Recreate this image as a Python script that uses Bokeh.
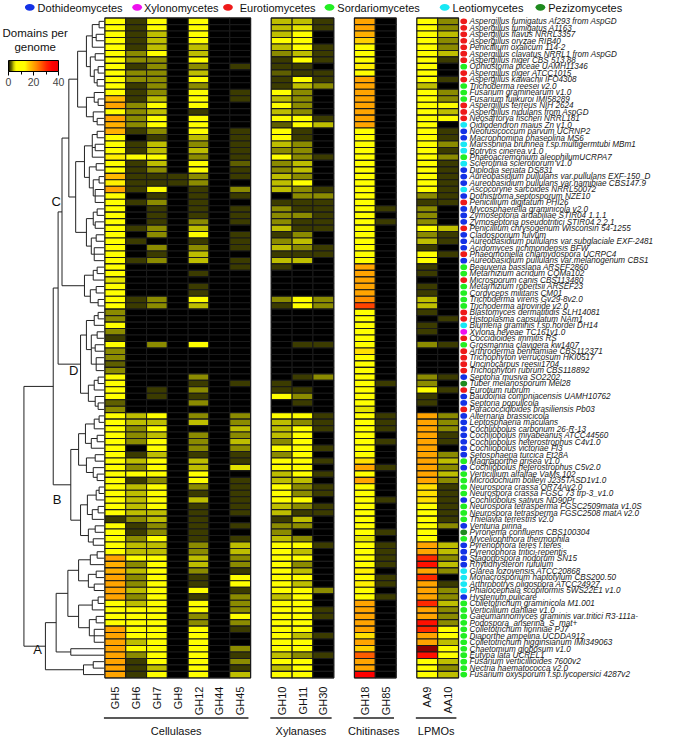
import numpy as np
import pandas as pd
from bokeh.plotting import figure
from bokeh.models import Range1d, ColumnDataSource, LinearColorMapper, ColorBar, FixedTicker
from bokeh.embed import file_html
from bokeh.resources import INLINE
from bokeh.core.properties import value

# ---------------- data ----------------
species = [
    "Aspergillus fumigatus Af293 from AspGD", "Aspergillus fumigatus A1163", "Aspergillus flavus NRRL3357",
    "Aspergillus oryzae RIB40", "Penicillium oxalicum 114-2", "Aspergillus clavatus NRRL1 from AspGD",
    "Aspergillus niger CBS 513.88", "Ophiostoma piceae UAMH11346", "Aspergillus niger ATCC1015",
    "Aspergillus kawachii IFO4308", "Trichoderma reesei v2.0", "Fusarium graminearum v1.0",
    "Fusarium fujikuroi IMI58289", "Aspergillus terreus NIH 2624", "Aspergillus nidulans from AspGD",
    "Neosartorya fischeri NRRL181", "Oidiodendron maius Zn v1.0", "Neofusicoccum parvum UCRNP2",
    "Macrophomina phaseolina MS6", "Marssonina brunnea f.sp.multigermtubi MBm1", "Botrytis cinerea v1.0",
    "Phaeoacremonium aleophilumUCRPA7", "Sclerotinia sclerotiorum v1.0", "Diplodia seriata DS831",
    "Aureobasidium pullulans var.pullulans EXF-150_D", "Aureobasidium pullulans var.namibiae CBS147.9",
    "Ascocoryne sarcoides NRRL50072", "Dothistroma septosporum NZE10", "Penicillium digitatum PHI26",
    "Mycosphaerella graminicola v2.0", "Zymoseptoria ardabiliae STIR04 1.1.1",
    "Zymoseptoria pseudotritici STIR04 2.2.1", "Penicillium chrysogenum Wisconsin 54-1255",
    "Cladosporium fulvum", "Aureobasidium pullulans var.subglaciale EXF-2481", "Acidomyces richmondensis BFW",
    "Phaeomoniella chlamydospora UCRPC4", "Aureobasidium pullulans var.melanogenum CBS1",
    "Beauveria bassiana ARSEF2860", "Metarhizium acridum CQMa102", "Microsporum canis CBS113480",
    "Metarhizium robertsii ARSEF23", "Cordyceps militaris CM01", "Trichoderma virens Gv29-8v2.0",
    "Trichoderma atroviride v2.0", "Blastomyces dermatitidis SLH14081", "Histoplasma capsulatum NAm1",
    "Blumeria graminis f.sp.hordei DH14", "Xylona heveae TC161v1.0", "Coccidioides immitis RS",
    "Grosmannia clavigera kw1407", "Arthroderma benhamiae CBS112371", "Trichophyton verrucosum HKI0517",
    "Uncinocarpus reesii1704", "Trichophyton rubrum CBS118892", "Septoria musiva SO2202",
    "Tuber melanosporum Mel28", "Eurotium rubrum", "Baudoinia compniacensis UAMH10762", "Septoria populicola",
    "Paracoccidioides brasiliensis Pb03", "Alternaria brassicicola", "Leptosphaeria maculans",
    "Cochliobolus carbonum 26-R-13", "Cochliobolus miyabeanus ATCC44560", "Cochliobolus heterostrophus C4v1.0",
    "Cochliobolus victoriae FI3", "Setosphaeria turcica Et28A", "Magnaporthe grisea v1.0",
    "Cochliobolus heterostrophus C5v2.0", "Verticillium alfalfae VaMs.102", "Microdochium bolleyi J235TASD1v1.0",
    "Neurospora crassa OR74Av2.0", "Neurospora crassa FGSC 73 trp-3_v1.0", "Cochliobolus sativus ND90Pr",
    "Neurospora tetrasperma FGSC2509mata v1.0S", "Neurospora tetrasperma FGSC2508 matA v2.0",
    "Thielavia terrestris v2.0", "Venturia pirina", "Pyronema confluens CBS100304", "Myceliophthora thermophila",
    "Pyrenophora teres f.teres", "Pyrenophora tritici-repentis", "Stagonospora nodorum SN15",
    "Rhytidhysteron rufulum", "Glarea lozoyensis ATCC20868", "Monacrosporium haptotylum CBS200.50",
    "Arthrobotrys oligospora ATCC24927", "Phialocephala scopiformis 5WS22E1 v1.0", "Hysterium pulicare",
    "Colletotrichum graminicola M1.001", "Verticillium dahliae v1.0",
    "Gaeumannomyces graminis var.tritici R3-111a-", "Podospora_anserina_S_mat+", "Colletotrichum fioriniae PJ7",
    "Diaporthe ampelina UCDDA912", "Colletotrichum higginsianum IMI349063", "Chaetomium globosum v1.0",
    "Eutypa lata UCREL1", "Fusarium verticillioides 7600v2", "Nectria haematococca v2.0",
    "Fusarium oxysporum f.sp.lycopersici 4287v2",
]
# D=Dothideomycetes X=Xylonomycetes E=Eurotiomycetes S=Sordariomycetes L=Leotiomycetes P=Pezizomycetes
classes = list(
    "EEEEEEESEESSSEEEL"      # 1-17
    "DDLLSLDDDLDEDDDEDDDED"  # 18-38
    "SSESSSSEELXES"          # 39-51
    "EEEEDPEDDE"             # 52-61
    "DDDDDDDSDSSSSDSSSDPS"   # 62-81
    "DDDDLLLLD"              # 82-90
    "SSSSSSSSSSSS"           # 91-102
)
class_names = ["Dothideomycetes", "Xylonomycetes", "Eurotiomycetes", "Sordariomycetes", "Leotiomycetes", "Pezizomycetes"]
class_keys = ["D", "X", "E", "S", "L", "P"]
class_colors = ["#1432e6", "#ee10ee", "#ee1a1a", "#22ee22", "#18e8f4", "#1e8a1e"]

families = ["GH5", "GH6", "GH7", "GH9", "GH12", "GH44", "GH45", "GH10", "GH11", "GH30", "GH18", "GH85", "AA9", "AA10"]
groups = ["Cellulases", "Xylanases", "Chitinases", "LPMOs"]
group_members = [["GH5", "GH6", "GH7", "GH9", "GH12", "GH44", "GH45"], ["GH10", "GH11", "GH30"],
                 ["GH18", "GH85"], ["AA9", "AA10"]]

# domains per genome, one list per family, rows in species order (10 per line)
GH5 = [11, 11, 13, 11, 11, 11, 11, 11, 11, 11,
       11, 13, 18, 20, 11, 20, 19, 19, 11, 11,
       11, 14, 11, 11, 18, 14, 20, 11, 11, 11,
       11, 11, 11, 11, 11, 11, 11, 11, 11, 11,
       5, 11, 11, 11, 11, 3, 3, 11, 3, 1,
       11, 3, 3, 2, 3, 11, 11, 11, 11, 2,
       3, 11, 11, 11, 11, 11, 11, 11, 11, 11,
       11, 11, 11, 11, 11, 11, 11, 1, 11, 11,
       11, 11, 11, 20, 19, 19, 20, 20, 20, 20,
       11, 11, 11, 11, 20, 20, 20, 20, 20, 20,
       20, 20]
GH6 = [1, 1, 1, 1, 1, 3, 3, 1, 3, 3,
       1, 1, 1, 3, 3, 3, 3, 1, 0, 1,
       1, 6, 1, 1, 1, 1, 1, 0, 1, 0,
       0, 0, 1, 0, 1, 0, 0, 1, 0, 0,
       0, 0, 0, 1, 1, 0, 0, 0, 0, 0,
       0, 0, 0, 0, 0, 0, 0, 0, 0, 0,
       0, 4, 4, 3, 3, 3, 0, 1, 4, 3,
       6, 1, 4, 4, 4, 4, 4, 3, 1, 1,
       3, 4, 4, 6, 3, 4, 3, 3, 4, 3,
       4, 6, 6, 6, 6, 6, 4, 6, 3, 1,
       1, 1]
GH7 = [6, 6, 4, 4, 4, 6, 3, 3, 3, 3,
       3, 3, 4, 6, 4, 6, 6, 3, 1, 4,
       4, 6, 4, 3, 1, 1, 6, 1, 3, 1,
       1, 1, 3, 3, 0, 3, 1, 3, 0, 0,
       0, 0, 0, 3, 3, 0, 0, 0, 0, 0,
       3, 0, 0, 0, 0, 0, 0, 1, 1, 0,
       0, 6, 4, 6, 4, 6, 6, 4, 6, 6,
       6, 3, 6, 6, 6, 6, 4, 4, 3, 3,
       6, 4, 4, 6, 6, 6, 6, 6, 6, 6,
       6, 6, 6, 6, 6, 6, 6, 6, 6, 6,
       4, 6]
GH9 = [0, 0, 0, 0, 0, 0, 0, 0, 0, 0,
       0, 0, 0, 0, 0, 0, 0, 0, 0, 0,
       0, 0, 0, 0, 1, 1, 0, 0, 0, 0,
       0, 0, 0, 0, 0, 0, 0, 0, 0, 0,
       0, 0, 0, 0, 0, 0, 0, 0, 0, 0,
       0, 0, 0, 0, 0, 0, 0, 0, 0, 0,
       0, 0, 0, 0, 0, 0, 0, 0, 0, 0,
       0, 0, 0, 0, 0, 0, 0, 0, 0, 0,
       0, 0, 0, 0, 0, 0, 0, 0, 0, 0,
       0, 0, 0, 0, 0, 0, 0, 0, 0, 0,
       0, 0]
GH12 = [6, 6, 6, 6, 4, 4, 6, 3, 4, 6,
        3, 6, 6, 6, 1, 6, 6, 6, 4, 3,
        4, 3, 6, 6, 3, 3, 1, 1, 1, 1,
        1, 3, 4, 6, 1, 3, 4, 4, 0, 1,
        0, 1, 1, 6, 4, 0, 0, 0, 0, 0,
        6, 0, 0, 0, 0, 3, 1, 3, 1, 3,
        0, 3, 4, 0, 3, 3, 3, 1, 4, 4,
        6, 6, 3, 1, 4, 1, 1, 1, 1, 1,
        1, 3, 3, 4, 4, 3, 1, 1, 6, 1,
        6, 6, 3, 3, 6, 6, 6, 6, 6, 6,
        6, 6]
GH44 = [0, 0, 0, 0, 0, 0, 0, 0, 0, 0,
        0, 0, 0, 0, 0, 0, 0, 0, 0, 0,
        0, 0, 0, 0, 0, 0, 0, 0, 0, 0,
        0, 0, 0, 0, 0, 0, 0, 0, 0, 0,
        0, 0, 0, 0, 0, 0, 0, 0, 0, 0,
        0, 0, 0, 0, 0, 0, 0, 0, 0, 0,
        0, 0, 0, 0, 0, 0, 0, 0, 0, 0,
        0, 0, 0, 0, 0, 0, 0, 0, 0, 0,
        0, 0, 0, 0, 0, 0, 0, 0, 0, 0,
        0, 0, 0, 0, 0, 0, 0, 0, 0, 0,
        0, 0]
GH45 = [0, 0, 0, 0, 0, 0, 0, 1, 0, 0,
        0, 1, 1, 0, 0, 0, 0, 1, 1, 1,
        1, 1, 2, 1, 1, 0, 3, 1, 0, 1,
        1, 1, 0, 1, 1, 1, 0, 1, 1, 0,
        0, 0, 0, 0, 0, 0, 0, 0, 0, 0,
        0, 0, 0, 0, 0, 0, 1, 0, 0, 0,
        0, 3, 3, 4, 3, 4, 3, 1, 1, 5,
        0, 1, 1, 1, 1, 1, 1, 0, 1, 0,
        1, 4, 4, 3, 3, 1, 6, 6, 1, 3,
        3, 3, 6, 3, 1, 0, 0, 3, 1, 3,
        1, 4]
GH10 = [4, 4, 4, 6, 4, 3, 1, 1, 2, 1,
        1, 6, 4, 6, 4, 6, 2, 6, 6, 4,
        3, 6, 3, 3, 4, 4, 4, 0, 1, 3,
        3, 3, 4, 1, 3, 4, 1, 4, 1, 0,
        0, 0, 0, 3, 1, 0, 0, 0, 0, 0,
        0, 0, 0, 0, 0, 0, 1, 1, 6, 0,
        0, 6, 4, 4, 4, 3, 6, 3, 6, 6,
        4, 4, 6, 6, 6, 4, 4, 1, 3, 3,
        4, 6, 6, 6, 6, 6, 6, 6, 6, 4,
        6, 6, 6, 6, 6, 6, 6, 6, 4, 6,
        4, 6]
GH11 = [4, 5, 6, 6, 6, 4, 6, 1, 1, 6,
        4, 3, 3, 3, 3, 6, 6, 1, 1, 3,
        3, 3, 4, 4, 3, 6, 3, 3, 1, 1,
        3, 1, 1, 3, 4, 3, 1, 4, 0, 0,
        0, 0, 0, 6, 6, 0, 0, 0, 0, 0,
        1, 0, 0, 0, 0, 1, 0, 1, 3, 1,
        0, 6, 3, 6, 6, 6, 6, 6, 6, 6,
        6, 4, 3, 3, 6, 3, 1, 4, 3, 0,
        3, 6, 4, 6, 3, 4, 6, 4, 6, 6,
        6, 6, 6, 6, 6, 4, 6, 6, 3, 6,
        6, 6]
GH30 = [1, 1, 0, 0, 1, 1, 1, 0, 1, 1,
        3, 0, 0, 0, 0, 1, 4, 0, 0, 0,
        0, 1, 0, 0, 0, 0, 1, 3, 1, 1,
        1, 1, 1, 0, 0, 1, 1, 0, 0, 0,
        0, 0, 0, 3, 3, 0, 0, 0, 0, 0,
        1, 0, 0, 0, 0, 3, 0, 0, 0, 0,
        0, 1, 1, 1, 0, 0, 1, 0, 1, 0,
        1, 0, 1, 1, 0, 1, 1, 0, 0, 0,
        0, 1, 0, 0, 0, 0, 0, 0, 3, 0,
        0, 1, 1, 0, 0, 1, 0, 0, 1, 0,
        0, 0]
GH18 = [20, 20, 19, 16, 12, 12, 12, 14, 12, 20,
        20, 20, 20, 20, 20, 20, 20, 12, 12, 12,
        12, 12, 12, 12, 12, 12, 12, 12, 12, 12,
        12, 12, 12, 12, 12, 12, 12, 12, 20, 20,
        20, 20, 20, 22, 28, 12, 12, 12, 12, 12,
        12, 15, 12, 12, 12, 12, 12, 12, 12, 12,
        5, 12, 12, 12, 12, 12, 12, 12, 15, 20,
        12, 20, 12, 12, 12, 12, 12, 12, 12, 12,
        5, 12, 12, 12, 12, 14, 12, 14, 12, 12,
        20, 20, 20, 20, 20, 15, 20, 16, 26, 20,
        20, 35]
GH85 = [0, 0, 0, 0, 0, 0, 0, 0, 0, 0,
        0, 0, 0, 0, 0, 0, 0, 0, 0, 0,
        0, 0, 0, 0, 0, 0, 0, 0, 0, 1,
        0, 1, 0, 0, 0, 0, 0, 0, 0, 0,
        0, 0, 0, 0, 0, 0, 0, 0, 0, 0,
        0, 0, 0, 0, 0, 0, 1, 0, 0, 0,
        0, 1, 1, 1, 0, 1, 0, 0, 0, 1,
        0, 0, 0, 0, 1, 0, 0, 0, 0, 1,
        0, 1, 1, 1, 1, 0, 1, 1, 0, 1,
        0, 0, 0, 0, 0, 0, 0, 0, 0, 0,
        0, 0]
AA9 = [10, 10, 10, 10, 10, 10, 10, 10, 10, 10,
       4, 12, 10, 10, 10, 10, 10, 12, 10, 10,
       10, 10, 10, 10, 10, 10, 10, 3, 1, 3,
       3, 3, 10, 3, 4, 1, 10, 10, 1, 1,
       0, 1, 1, 4, 4, 1, 0, 1, 1, 0,
       3, 0, 0, 0, 0, 3, 3, 10, 1, 1,
       0, 20, 20, 20, 20, 20, 20, 20, 20, 20,
       20, 20, 15, 15, 15, 10, 10, 10, 10, 10,
       10, 20, 20, 30, 33, 20, 30, 20, 20, 20,
       30, 20, 20, 33, 30, 20, 20, 45, 33, 10,
       10, 10]
AA10 = [3, 3, 4, 3, 3, 4, 1, 0, 0, 1,
        0, 3, 3, 6, 4, 6, 0, 1, 1, 3,
        1, 3, 1, 1, 1, 1, 1, 1, 1, 0,
        0, 0, 4, 1, 1, 0, 1, 0, 0, 0,
        0, 0, 0, 0, 0, 0, 1, 0, 0, 0,
        1, 0, 0, 0, 0, 1, 0, 1, 0, 0,
        0, 3, 3, 3, 1, 1, 0, 3, 4, 3,
        4, 3, 1, 1, 1, 1, 1, 1, 3, 0,
        0, 4, 4, 3, 4, 3, 0, 1, 3, 3,
        4, 3, 3, 3, 6, 6, 4, 6, 6, 4,
        3, 4]

values = {"GH5": GH5, "GH6": GH6, "GH7": GH7, "GH9": GH9, "GH12": GH12, "GH44": GH44, "GH45": GH45,
          "GH10": GH10, "GH11": GH11, "GH30": GH30, "GH18": GH18, "GH85": GH85, "AA9": AA9, "AA10": AA10}

# dendrogram: node = (node position in px, [children]); leaf = row number (1-based)
c1 = (88, [(94, [(101, [1, 2]), (98, [3, 4]), 5]), (92, [(97, [6, 7]), (96, [(100, [8, 9]), (99, [10, 11])])])])
c2 = (88, [(96, [12, (100, [13, 14])]), (95, [15, (99, [16, 17])])])
c3 = (86, [(94, [(99, [18, 19]), (97, [20, 21]), 22]), (91, [(98, [23, 24]), (95, [(101, [25, 26]), (97, [27, 28, 29])])])])
c4 = (88, [(95, [(99, [30, 31]), (97, [32, 33])]), (93, [(98, [34, 35]), (96, [36, 37, 38])])])
c5 = (86, [(95, [(99, [39, 40]), 41]), (92, [(98, [42, 43]), (100, [44, 45])])])
cladeC = (63, [(70, [(79, [c1, c2]), (77, [c3, c4])]), c5])
cladeD = (82, [(88, [(96, [(100, [46, 47]), 48]), (93, [(99, [49, 50]), (97, [51, 52]), (98, [53, 54, 55])])]),
               (90, [(96, [(100, [56, 57]), 58]), (97, [59, (100, [60, 61])])])])
cladeB = (72, [(80, [(87, [(96, [(101, [62, 63]), 64]), (93, [(99, [65, 66]), 67])]),
                     (88, [(97, [68, 69]), (95, [70, (99, [71, 72])])])]),
               (82, [(89, [(98, [(101, [73, 74]), 75]), (94, [(100, [76, 77]), 78])]),
                     (90, [(97, [79, 80]), (95, [81, 82])])])])
cladeA = (46, [(57, [(69, [(80, [(92, [(99, [83, 84]), 85]), (90, [(98, [86, 87]), (96, [88, 89])])]),
                           (80, [(94, [(100, [90, 91]), 92]), (91, [(98, [93, 94]), (96, [95, 96, 97])])])]),
                     (72, [98, 99])]),
               (85, [(95, [100, 101]), 102])])
tree = (24, [(54, [(59, [cladeC, cladeD]), cladeB]), cladeA])
clade_labels = ["A", "B", "C", "D"]

# ---------------- layout helpers (reference pixel -> data) ----------------
N = len(species)
X0, PXC = 107.0, 21.3      # heat map left edge, px per column
Y0, PXR = 18.0, 6.608      # heat map top edge, px per row
def fx(px): return (px - X0) / PXC
def fy(py): return (py - Y0) / PXR

col_pos = {}
k = 0
for gi, mem in enumerate(group_members):
    for f in mem:
        col_pos[f] = k
        k += 1
    k += 1

W, H = 659, 738
p = figure(width=W, height=H, output_backend="svg", toolbar_location=None,
           x_range=Range1d(fx(0), fx(675)), y_range=Range1d(fy(754), fy(0)),
           min_border=0, outline_line_color=None)
p.axis.visible = False
p.grid.visible = False
p.background_fill_color = "white"

# colour map
anchors = [(0, "#000000"), (1, "#3f3f00"), (2, "#636300"), (3, "#8c8c00"), (4, "#c2c200"), (5, "#e2e200"),
           (6, "#ffff00"), (13, "#ffff00"), (16, "#ffd000"), (20, "#ffa500"), (25, "#ff6a00"),
           (30, "#ff2a00"), (35, "#ff0000"), (40, "#ee0000")]
def h2rgb(h): return [int(h[i:i + 2], 16) for i in (1, 3, 5)]
av = [a[0] for a in anchors]
ac = np.array([h2rgb(a[1]) for a in anchors], float)
palette = []
for t in np.linspace(0, 40, 256):
    rgb = [np.interp(t, av, ac[:, c]) for c in range(3)]
    palette.append("#%02x%02x%02x" % tuple(int(round(v)) for v in rgb))
mapper = LinearColorMapper(palette=palette, low=0, high=40, high_color="#8b0000")

# panel backgrounds
for gi, mem in enumerate(group_members):
    l = col_pos[mem[0]]
    r = col_pos[mem[-1]] + 1
    p.quad(left=l, right=r, top=0, bottom=N, fill_color="black", line_color="#666666", line_width=1.5)

# heat cells
rows = []
for f in families:
    vals = values[f]
    for i in range(N):
        rows.append(dict(x=col_pos[f] + 0.5, y=i + 0.5, v=vals[i] if i < len(vals) else 0, fam=f, sp=species[i]))
df = pd.DataFrame(rows)
src = ColumnDataSource(df)
p.rect(x="x", y="y", width=1, height=1, source=src,
       fill_color={"field": "v", "transform": mapper}, line_color="#1a1a1a", line_width=1.1)

# column labels
fam_x = [col_pos[f] + 0.5 for f in families]
p.text(x=fam_x, y=[fy(701)] * len(families), text=families, angle=np.pi / 2,
       text_align="right", text_baseline="middle", text_font=value("Liberation Sans"),
       text_font_size="11px", text_color="#111111")

# group lines + labels
for gi, mem in enumerate(group_members):
    l = col_pos[mem[0]] - 0.05
    r = col_pos[mem[-1]] + 1 - 0.1
    p.segment(x0=[l], y0=[fy(733)], x1=[r], y1=[fy(733)], line_color="#222222", line_width=1.6)
    p.text(x=[(l + r) / 2], y=[fy(746)], text=[groups[gi]], text_align="center", text_baseline="middle",
           text_font=value("Liberation Sans"), text_font_size="11px", text_color="#111111")

# species dots + labels
ccol = {k_: c for k_, c in zip(class_keys, class_colors)}
p.ellipse(x=[fx(474.5)] * N, y=[i + 0.5 for i in range(N)], width=7 / PXC, height=5.8 / PXR,
          fill_color=[ccol[c] for c in classes], line_color=None)
p.text(x=[fx(480.5)] * N, y=[i + 0.55 for i in range(N)], text=species, text_baseline="middle",
       text_font=value("Liberation Sans"), text_font_style="italic", text_font_size="8.15px",
       text_color="#1a1a1a")

# top legend
leg_dot = [30, 140, 233, 337, 455, 553]
leg_txt = [38, 147, 245, 345, 463, 561]
p.ellipse(x=[fx(v) for v in leg_dot], y=[fy(7)] * 6, width=10 / PXC, height=7 / PXR,
          fill_color=class_colors, line_color=None)
p.text(x=[fx(v) for v in leg_txt], y=[fy(7.5)] * 6, text=class_names, text_baseline="middle",
       text_font=value("Liberation Sans"), text_font_size="11px", text_color="#111111")

# colour bar title
p.text(x=[fx(35.5)] * 2, y=[fy(33), fy(48)], text=["Domains per", "genome"], text_align="center",
       text_baseline="middle", text_font=value("Liberation Sans"), text_font_size="11.5px", text_color="#111111")
cb = ColorBar(color_mapper=mapper, orientation="horizontal", width=50, height=11, padding=0,
              location=(8, 650), ticker=FixedTicker(ticks=[0, 20, 40], minor_ticks=[10, 30]),
              major_label_text_font_size="10.5px", major_label_text_font="Liberation Sans",
              major_tick_out=4, major_tick_in=0, major_tick_line_color="black",
              minor_tick_out=3, minor_tick_in=0, minor_tick_line_color="black",
              bar_line_color="black", bar_line_width=1, label_standoff=2,
              background_fill_alpha=0, border_line_color=None)
p.add_layout(cb, "center")

# dendrogram
segs = dict(x0=[], y0=[], x1=[], y1=[])
LEAF_X = fx(106)
def draw(node):
    if isinstance(node, int):
        return LEAF_X, node - 0.5
    x, children = node
    xn = fx(x)
    ys = []
    for ch in children:
        cx, cy = draw(ch)
        segs["x0"].append(xn); segs["y0"].append(cy); segs["x1"].append(cx); segs["y1"].append(cy)
        ys.append(cy)
    segs["x0"].append(xn); segs["y0"].append(min(ys)); segs["x1"].append(xn); segs["y1"].append(max(ys))
    return xn, (min(ys) + max(ys)) / 2
draw(tree)
p.segment(x0="x0", y0="y0", x1="x1", y1="y1", source=ColumnDataSource(segs), line_color="#222222", line_width=1)

p.text(x=[fx(38), fx(58), fx(57), fx(75)], y=[fy(663), fy(510), fy(205), fy(378)], text=clade_labels,
       text_align="center", text_baseline="middle", text_font=value("Liberation Sans"),
       text_font_size="13px", text_color="#111111")

open("out.html", "w").write(file_html(p, INLINE))
